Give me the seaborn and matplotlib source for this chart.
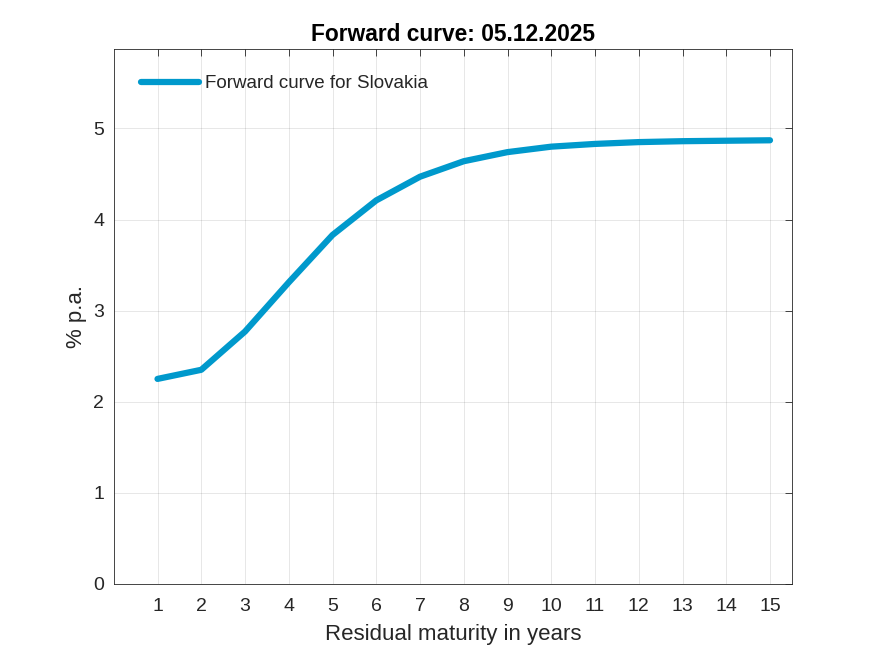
import seaborn as sns
import matplotlib.pyplot as plt
import pandas as pd

# data
maturity = [1, 2, 3, 4, 5, 6, 7, 8, 9, 10, 11, 12, 13, 14, 15]
forward_rate = [2.25, 2.35, 2.77, 3.31, 3.83, 4.21, 4.47, 4.64, 4.74, 4.80,
                4.83, 4.85, 4.86, 4.865, 4.87]
series_name = "Forward curve for Slovakia"

df = pd.DataFrame({"maturity": maturity, "rate": forward_rate})

sns.set_style("white")
plt.rcParams["font.family"] = ["Liberation Sans", "DejaVu Sans"]

fig = plt.figure(figsize=(8.75, 6.56), dpi=100)
ax = fig.add_axes([0.13, 0.11, 0.775, 0.815])

sns.lineplot(data=df, x="maturity", y="rate", ax=ax, color="#0099cc",
             linewidth=4.5, label=series_name)

ax.set_xlim(0, 15.5)
ax.set_ylim(0, 5.87)
ax.set_xticks(maturity)
ax.set_yticks([0, 1, 2, 3, 4, 5])
ax.grid(True, color="#262626", alpha=0.13, linewidth=0.6)
ax.tick_params(direction="in", length=5, width=0.6, top=True, right=True,
               labelsize=14, colors="#262626")
ax.tick_params(axis="x", pad=10)
ax.tick_params(axis="y", pad=7)
for s in ax.spines.values():
    s.set_linewidth(0.6)
    s.set_color("#262626")

ax.set_xlabel("Residual maturity in years", fontsize=16, color="#262626",
              labelpad=7)
ax.set_ylabel("% p.a.", fontsize=16, color="#262626", labelpad=4)
ax.set_title("Forward curve: 05.12.2025", fontsize=16.4, fontweight="bold",
             color="black", pad=6)

leg = ax.legend(loc="upper left", frameon=False, fontsize=13.5,
                handlelength=3.1, handletextpad=0.3,
                bbox_to_anchor=(0.015, 0.983))

fig.savefig("out.png", dpi=100)
